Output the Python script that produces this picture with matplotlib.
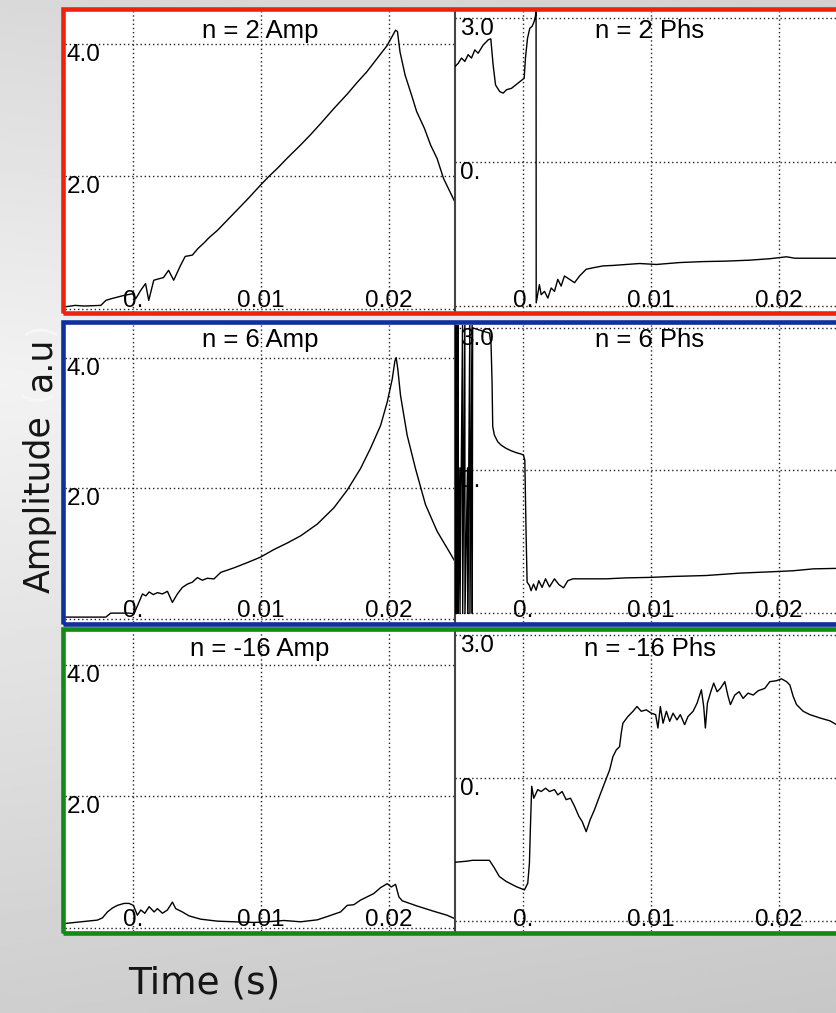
import numpy as np
import matplotlib
matplotlib.use("Agg")
import matplotlib.pyplot as plt
from matplotlib.patches import Rectangle
from matplotlib.transforms import blended_transform_factory

# ---- amplitude / phase traces for the three modes (time in s) ----
amp_n2_t = [-0.00523, -0.0045, -0.0038, -0.0025, -0.0021, -0.0017, -0.0007, 0.0, 0.00023, 0.00063,
            0.001, 0.00125, 0.00164, 0.002, 0.0024, 0.0028, 0.0032, 0.00375, 0.0041, 0.00466,
            0.0051, 0.0056, 0.0060, 0.0066, 0.0071, 0.0077, 0.0083, 0.0090, 0.00995, 0.0107,
            0.0113, 0.0121, 0.0131, 0.0139, 0.0147, 0.0157, 0.0168, 0.0175, 0.0183, 0.0191,
            0.0199, 0.02055, 0.0207, 0.0209, 0.0213, 0.0218, 0.0222, 0.0228, 0.0233, 0.0238,
            0.0243, 0.0248, 0.0252]
amp_n2 = [0.03, 0.05, 0.04, 0.05, 0.126, 0.15, 0.2, 0.227, 0.15, 0.28,
          0.38, 0.126, 0.43, 0.45, 0.47, 0.58, 0.43, 0.66, 0.79, 0.81,
          0.91, 1.00, 1.08, 1.18, 1.28, 1.40, 1.52, 1.66, 1.86, 2.01,
          2.12, 2.28, 2.47, 2.63, 2.80, 3.02, 3.25, 3.41, 3.58, 3.78,
          3.98, 4.21, 4.19, 3.88, 3.53, 3.23, 2.98, 2.73, 2.47, 2.27,
          1.97, 1.77, 1.61]

phs_n2_t = [-0.00531, -0.00505, -0.00479, -0.00453, -0.00427, -0.00401, -0.00375, -0.00349, -0.0031, -0.0027,
            -0.0025, -0.00232, -0.00213, -0.0018, -0.00153, -0.00127, -0.00088, -0.00036, 0.00011, 0.00021,
            0.00037, 0.00055, 0.00073, 0.00089, 0.00099, 0.00104, 0.00105, 0.0013, 0.00144, 0.0017,
            0.00196, 0.00222, 0.00248, 0.00274, 0.003, 0.00326, 0.00366, 0.00405, 0.00444, 0.00496,
            0.00548, 0.00627, 0.00705, 0.00809, 0.00914, 0.01044, 0.01227, 0.0141, 0.01593, 0.01775,
            0.01932, 0.02063, 0.02128, 0.02454, 0.0256]
phs_n2 = [1.99, 2.06, 2.17, 2.10, 2.24, 2.17, 2.34, 2.27, 2.44, 2.55,
          2.57, 2.03, 1.61, 1.47, 1.44, 1.51, 1.54, 1.65, 1.75, 2.17,
          2.58, 2.79, 2.83, 2.93, 3.04, 3.15, -2.93, -2.55, -2.76, -2.69,
          -2.83, -2.62, -2.69, -2.44, -2.58, -2.37, -2.44, -2.51, -2.37, -2.23,
          -2.20, -2.16, -2.15, -2.13, -2.11, -2.13, -2.09, -2.07, -2.06, -2.04,
          -2.01, -1.97, -2.00, -2.00, -2.00]

amp_n6_t = [-0.00523, -0.00211, -0.00172, -0.00029, 0.0001, 0.00076, 0.00102, 0.00128, 0.00161, 0.00193,
            0.00232, 0.00271, 0.0031, 0.00349, 0.00388, 0.00427, 0.00466, 0.00505, 0.00544, 0.00583,
            0.00635, 0.00688, 0.00792, 0.00896, 0.00995, 0.01104, 0.01208, 0.01313, 0.01443, 0.01573,
            0.01677, 0.01781, 0.01859, 0.01938, 0.0199, 0.02029, 0.0205, 0.0206, 0.02073, 0.02094,
            0.02146, 0.02211, 0.02289, 0.0238, 0.02471, 0.02516]
amp_n6 = [0.025, 0.025, 0.086, 0.086, 0.076, 0.38, 0.35, 0.41, 0.37, 0.40,
          0.38, 0.42, 0.25, 0.38, 0.48, 0.53, 0.56, 0.63, 0.59, 0.62,
          0.61, 0.71, 0.78, 0.86, 0.94, 1.06, 1.16, 1.27, 1.45, 1.70,
          1.97, 2.30, 2.61, 2.96, 3.32, 3.67, 3.95, 4.00, 3.82, 3.42,
          2.81, 2.30, 1.75, 1.34, 1.04, 0.89]

phs_n6_t = [-0.00527, -0.00526, -0.00522, -0.00519, -0.00515, -0.00511, -0.00507, -0.00505, -0.00492, -0.00491,
            -0.00471, -0.0047, -0.00453, -0.00452, -0.00432, -0.00431, -0.00414, -0.00413, -0.00396, -0.00395,
            -0.00392, -0.00313, -0.00261, -0.00248, -0.0024, -0.00235, -0.00222, -0.00196, -0.0017, -0.00131,
            -0.00091, -0.00052, -0.00013, 0.00005, 0.00016, 0.00026, 0.00034, 0.00052, 0.00065, 0.00084,
            0.00104, 0.00125, 0.00151, 0.00178, 0.00209, 0.00248, 0.00282, 0.00319, 0.00352, 0.00392,
            0.00496, 0.00653, 0.00809, 0.00992, 0.01175, 0.01436, 0.01697, 0.01958, 0.02115, 0.02272,
            0.02454, 0.0256]
phs_n6 = [3.05, -3.02, 3.10, -3.02, 3.10, -3.02, 3.10, -3.02, 0.05, -3.02,
          3.10, -3.02, 3.10, -3.02, 0.05, -3.02, 3.10, -3.02, 3.10, -3.02,
          3.00, 2.93, 2.89, 2.65, 1.83, 0.92, 0.74, 0.60, 0.53, 0.46,
          0.41, 0.37, 0.34, 0.32, 0.21, -1.34, -2.36, -2.43, -2.54, -2.40,
          -2.53, -2.33, -2.47, -2.29, -2.46, -2.29, -2.41, -2.48, -2.33, -2.29,
          -2.29, -2.29, -2.27, -2.26, -2.24, -2.22, -2.17, -2.14, -2.12, -2.08,
          -2.07, -2.06]

amp_n16_t = [-0.00523, -0.00276, -0.00237, -0.00198, -0.00159, -0.0012, -0.00068, -0.00029, 0.00005, 0.00036,
             0.00063, 0.00094, 0.00128, 0.00167, 0.00193, 0.00232, 0.00271, 0.0031, 0.00336, 0.00388,
             0.0044, 0.00531, 0.00661, 0.00792, 0.00948, 0.01052, 0.01182, 0.01313, 0.01443, 0.01521,
             0.01625, 0.01677, 0.01729, 0.01781, 0.01833, 0.01885, 0.01938, 0.0199, 0.02021, 0.02055,
             0.02081, 0.02107, 0.02224, 0.02354, 0.02458, 0.02516]
amp_n16 = [0.066, 0.116, 0.15, 0.24, 0.30, 0.34, 0.37, 0.37, 0.34, 0.19,
           0.27, 0.22, 0.32, 0.24, 0.29, 0.22, 0.27, 0.39, 0.29, 0.24,
           0.18, 0.13, 0.10, 0.09, 0.08, 0.09, 0.11, 0.09, 0.12, 0.17,
           0.24, 0.34, 0.35, 0.42, 0.47, 0.52, 0.61, 0.67, 0.62, 0.66,
           0.47, 0.41, 0.33, 0.25, 0.19, 0.14]

phs_n16_t = [-0.00527, -0.00444, -0.00392, -0.00261, -0.00222, -0.00183, -0.00131, -0.00052, 0.00013, 0.00039,
             0.00052, 0.0006, 0.0007, 0.00086, 0.00117, 0.00144, 0.00178, 0.00209, 0.00248, 0.00274,
             0.00308, 0.00339, 0.00373, 0.00405, 0.00439, 0.00465, 0.00496, 0.00527, 0.00561, 0.006,
             0.0064, 0.00679, 0.00705, 0.00731, 0.00757, 0.0077, 0.00783, 0.00822, 0.00862, 0.00893,
             0.00927, 0.00966, 0.01005, 0.01039, 0.01057, 0.01076, 0.01097, 0.01123, 0.01149, 0.01175,
             0.01206, 0.01232, 0.01266, 0.01292, 0.01332, 0.01363, 0.01397, 0.01415, 0.01428, 0.01444,
             0.01467, 0.01493, 0.0152, 0.01546, 0.0158, 0.01606, 0.01624, 0.01658, 0.01692, 0.01723,
             0.01762, 0.01802, 0.01841, 0.01893, 0.01932, 0.01984, 0.02023, 0.02063, 0.02089, 0.02115,
             0.02141, 0.02193, 0.02245, 0.02324, 0.02402, 0.02454, 0.0256]
phs_n16 = [-1.76, -1.74, -1.72, -1.72, -1.88, -2.06, -2.16, -2.27, -2.34, -2.20,
           -1.78, -1.01, -0.17, -0.42, -0.24, -0.28, -0.21, -0.28, -0.24, -0.35,
           -0.28, -0.45, -0.42, -0.59, -0.80, -0.91, -1.12, -0.87, -0.66, -0.38,
           -0.10, 0.17, 0.45, 0.59, 0.66, 0.94, 1.15, 1.29, 1.40, 1.50,
           1.40, 1.43, 1.36, 1.33, 1.05, 1.50, 1.15, 1.40, 1.19, 1.36,
           1.22, 1.33, 1.12, 1.29, 1.40, 1.57, 1.85, 1.50, 1.05, 1.57,
           1.78, 1.99, 1.81, 1.88, 2.02, 1.71, 1.54, 1.74, 1.81, 1.67,
           1.78, 1.74, 1.83, 1.88, 2.02, 2.04, 2.08, 2.02, 1.95, 1.71,
           1.54, 1.40, 1.33, 1.26, 1.20, 1.12, 1.08]

time_ticks = [0.0, 0.01, 0.02]
time_labels = ["0.", "0.01", "0.02"]
amp_ticks = [0.0, 2.0, 4.0]
amp_labels = ["", "2.0", "4.0"]
phs_ticks = [-3.0, 0.0, 3.0]
phs_labels = ["", "0.", "3.0"]

W, H = 837, 1013
fig = plt.figure(figsize=(W / 100, H / 100), dpi=100)


def px_rect(x0, y0, x1, y1):
    return [x0 / W, 1 - y1 / H, (x1 - x0) / W, (y1 - y0) / H]


# soft grey slide background
yy = np.linspace(0, 1, 400)[:, None]
xx = np.linspace(0, 1, 200)[None, :]
shade = np.interp(yy, [0.0, 0.38, 1.0], [0.85, 0.95, 0.81]) - 0.03 * xx
bg = fig.add_axes([0, 0, 1, 1], zorder=-10)
bg.imshow(shade, cmap="gray", vmin=0, vmax=1, aspect="auto", extent=[0, 1, 0, 1])
bg.axis("off")

font = "Liberation Sans"
grid_kw = dict(color="#222222", linestyle=(0, (1, 2)), linewidth=1.0)


def setup_panel(ax, t, v, ylim, yticks, ylabels, title, title_base, ylab_dx):
    ax.set_xlim(-0.0053, 0.0252)
    ax.set_ylim(*ylim)
    ax.set_xticks(time_ticks)
    ax.set_yticks(yticks)
    ax.tick_params(length=0, labelbottom=False, labelleft=False)
    ax.grid(True, **grid_kw)
    ax.set_axisbelow(True)
    for s in ax.spines.values():
        s.set_visible(False)
    ax.plot(t, v, color="black", linewidth=1.0, zorder=3)
    tx = blended_transform_factory(ax.transData, ax.transAxes)
    for xv, lab in zip(time_ticks, time_labels):
        ax.text(xv, 0.017, lab, transform=tx, ha="center", va="baseline",
                fontsize=17.5, family=font, zorder=4)
    ty = blended_transform_factory(ax.transAxes, ax.transData)
    for yv, lab in zip(yticks, ylabels):
        if lab:
            ax.text(ylab_dx, yv, lab, transform=ty, ha="left", va="top",
                    fontsize=17.5, family=font, zorder=4)
    ax.text(0.5, title_base, title, transform=ax.transAxes, ha="center",
            va="baseline", fontsize=18.5, family=font, zorder=4)


rows = [
    ((11, 312), 38, "#f0220c", (9, 313), amp_n2_t, amp_n2, phs_n2_t, phs_n2, "2", (-3.12, 3.15)),
    ((325, 622), 347, "#10309c", (322.5, 624), amp_n6_t, amp_n6, phs_n6_t, phs_n6, "6", (-3.2, 3.06)),
    ((632, 931), 656, "#138a16", (629, 932.5), amp_n16_t, amp_n16, phs_n16_t, phs_n16, "-16", (-3.2, 3.06)),
]

for (y0, y1), base, col, (fy0, fy1), at, av, pt, pv, n, plim in rows:
    tb = (y1 - base) / (y1 - y0)
    ax_a = fig.add_axes(px_rect(65, y0, 455, y1))
    setup_panel(ax_a, at, av, (-0.05, 4.5), amp_ticks, amp_labels,
                f"n = {n} Amp", tb, 0.005)
    ax_p = fig.add_axes(px_rect(455, y0, 845, y1))
    setup_panel(ax_p, pt, pv, plim, phs_ticks, phs_labels,
                f"n = {n} Phs", tb, 0.013)
    ax_p.spines["left"].set_visible(True)
    ax_p.spines["left"].set_color("#444444")
    ax_p.spines["left"].set_linewidth(1.5)
    fig.patches.append(Rectangle((63 / W, 1 - fy1 / H), (900 - 63) / W, (fy1 - fy0) / H,
                                 transform=fig.transFigure, fill=False,
                                 edgecolor=col, linewidth=3.3, zorder=5))

# y-axis label, with the parentheses drawn pale
renderer = fig.canvas.get_renderer()
ypos = 593
for piece, c in [("Amplitude", "#151515"), (" (", "#f7f7f7"), ("a.u", "#151515"), (")", "#f7f7f7")]:
    t = fig.text(50 / W, 1 - ypos / H, piece, rotation=90, rotation_mode="anchor",
                 ha="left", va="baseline", fontsize=25, family="DejaVu Sans", color=c)
    ypos -= t.get_window_extent(renderer).height

fig.text(204 / W, 1 - 983 / H, "Time (s)", ha="center", va="center",
         fontsize=27, family="DejaVu Sans", color="#151515")

fig.savefig("out.png", dpi=100)
